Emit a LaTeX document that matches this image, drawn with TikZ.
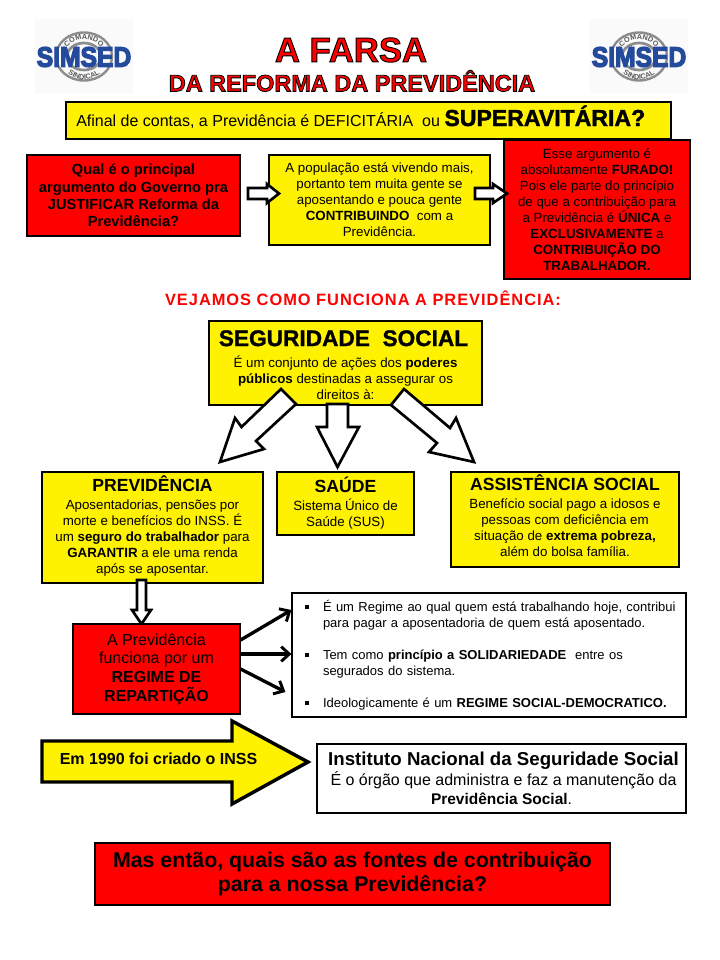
\documentclass[tikz,border=0pt]{standalone}
\usepackage{fontspec}
\setmainfont{Liberation Sans}
\usetikzlibrary{calc,decorations.text,arrows.meta}
\newcommand{\outl}[3]{\special{pdf:code 2 Tr #2 w #1 RG}#3\special{pdf:code 0 Tr 1 w}}
\newcommand{\fs}[2]{\fontsize{#1}{#2}\selectfont}
\newcommand{\bul}{\hspace*{4.5pt}\rule[1.6pt]{3pt}{3pt}\hspace{10.5pt}}
\newcommand{\cont}{\hspace*{18pt}}
\definecolor{logoblue}{RGB}{35,75,155}
\definecolor{logogray}{RGB}{140,140,140}
\definecolor{logotext}{RGB}{90,90,90}
\tikzset{
  boxy/.style={draw=black,line width=.9pt,inner sep=0pt,align=center,font=\fs{10}{12}},
  sz/.style 2 args={minimum width=#1*0.75pt,minimum height=#2*0.75pt},
  blockarrow/.style={draw=black,fill=white,line width=2pt,miter limit=6},
  thinarrow/.style={draw=black,line width=2.5pt,-{Straight Barb[length=6pt,width=11pt,line width=2.2pt]}},
  logo/.pic={
    \path[fill=black!2] (-49,-37.5) rectangle (49,37.5);
    \draw[logogray,line width=1.8pt] (0,0) ellipse (28 and 24);
    \draw[logogray,line width=2pt] (0,0) ellipse (17 and 13.5);
    \path[postaction={decorate,decoration={text along path,text align=center,
      text={|\fs{5.5}{6}\bfseries\color{logotext}|COMANDO}}}]
      (-19.7,-2.95) arc[start angle=-170,end angle=-10,x radius=20,y radius=17];
    \path[postaction={decorate,decoration={text along path,text align=center,
      text={|\fs{5.5}{6}\bfseries\color{logotext}|SINDICAL}}}]
      (-23.2,5.95) arc[start angle=165,end angle=15,x radius=24,y radius=23];
    \node[inner sep=0pt,text=logoblue,font=\fs{21}{21}\bfseries] (simsed) at (0,0.5)
      {\scalebox{.88}[1]{\outl{.14 .29 .61}{1}{SIMSED}}};
  }
}
\begin{document}
\begin{tikzpicture}[x=0.75pt,y=-0.75pt]
\useasboundingbox (0,0) rectangle (720,960);
\fill[white] (0,0) rectangle (720,960);
\pic (la) at (84,56.5) {logo};
\pic (lb) at (639,56.5) {logo};
\node[inner sep=0pt,text=red,font=\fs{26}{26}\bfseries] (t1) at (351,50) {\outl{0 0 0}{.7}{A FARSA}};
\node[inner sep=0pt,text=red,font=\fs{17.6}{18}\bfseries] (t2) at (352,81) {\outl{0 0 0}{.6}{DA REFORMA DA PREVIDÊNCIA}};
\node[boxy,fill=yellow,sz={605}{37}] (q0) at (368.5,120.5) {};
\node[inner sep=0pt,anchor=base west,font=\fs{12}{14}] (q0t) at (76,126)
 {Afinal de contas, a Previdência é DEFICITÁRIA\ \ ou \fs{17.3}{18}\bfseries\outl{0 0 0}{.3}{SUPERAVITÁRIA?}};
\node[boxy,fill=red,sz={213}{81},font=\fs{11}{13}\bfseries] (r1) at (133.5,195.5)
 {Qual é o principal\\argumento do Governo pra\\JUSTIFICAR Reforma da\\Previdência?};
\node[boxy,fill=yellow,sz={221}{90}] (y2) at (379.5,200)
 {A população está vivendo mais,\\portanto tem muita gente se\\aposentando e pouca gente\\\textbf{CONTRIBUINDO}\ \ com a\\Previdência.};
\node[boxy,fill=red,sz={186}{139}] (r3) at (597,209.5)
 {Esse argumento é\\absolutamente \textbf{FURADO!}\\Pois ele parte do princípio\\de que a contribuição para\\a Previdência é \textbf{ÚNICA} e\\\textbf{EXCLUSIVAMENTE} a\\\textbf{CONTRIBUIÇÃO DO}\\\textbf{TRABALHADOR.}};
\draw[blockarrow] (248,188)--(267,188)--(267,184)--(279,193.5)--(267,203)--(267,199)--(248,199)--cycle;
\draw[blockarrow] (475,188)--(493,188)--(493,184)--(507,193.5)--(493,203)--(493,199)--(475,199)--cycle;
\node[inner sep=0pt,text=red,font=\fs{12.3}{14}\bfseries] (h1) at (363,298) {\addfontfeature{LetterSpace=6}VEJAMOS COMO FUNCIONA A PREVIDÊNCIA:};
\node[boxy,fill=yellow,sz={273}{84}] (seg) at (345.5,363)
 {\rule{0pt}{14.5pt}\fs{17}{20}\bfseries\outl{0 0 0}{.2}{SEGURIDADE\ \ SOCIAL}\hspace*{3pt}\\[3.8pt]É um conjunto de ações dos \textbf{poderes}\\\textbf{públicos} destinadas a assegurar os\\direitos à:};
\draw[blockarrow] (281,389)--(296,404)--(256,441)--(264,449)--(220,462)--(235,418)--(241.5,427)--cycle;
\draw[blockarrow] (327,404)--(348,404)--(348,427)--(359,427)--(337.5,467)--(317,427)--(327,427)--cycle;
\draw[blockarrow] (404,389)--(391,405)--(437,443)--(429,452)--(474,462)--(456,418)--(450,428)--cycle;
\node[boxy,fill=yellow,sz={221}{111}] (prev) at (152.5,527.5)
 {\fs{13.2}{15}\bfseries PREVIDÊNCIA\\[1.5pt]Aposentadorias, pensões por\\morte e benefícios do INSS. É\\um \textbf{seguro do trabalhador} para\\\textbf{GARANTIR} a ele uma renda\\após se aposentar.\rule[-4pt]{0pt}{0pt}};
\node[boxy,fill=yellow,sz={137}{63}] (sau) at (345.5,503.5)
 {\fs{13.2}{15}\bfseries SAÚDE\\[1.5pt]Sistema Único de\\Saúde (SUS)};
\node[boxy,fill=yellow,sz={228}{95}] (ass) at (565,519.5)
 {\fs{13.2}{15}\bfseries ASSISTÊNCIA SOCIAL\\[1.5pt]Benefício social pago a idosos e\\pessoas com deficiência em\\situação de \textbf{extrema pobreza,}\\além do bolsa família.\rule[-5.5pt]{0pt}{0pt}};
\draw[blockarrow] (137,580)--(146,580)--(146,610)--(151,610)--(141.5,624)--(132,610)--(137,610)--cycle;
\node[boxy,fill=red,sz={167}{90},font=\fs{12}{14}] (rep) at (156.5,669)
 {A Previdência\\funciona por um\\\textbf{REGIME DE}\\\textbf{REPARTIÇÃO}};
\node[boxy,fill=white,sz={394}{124},text width=380*0.75pt,align=left,font=\fs{9.75}{12}] (lst) at (489,655)
 {\bul É um Regime ao qual quem está trabalhando hoje, contribui\\
  \cont para pagar a aposentadoria de quem está aposentado.\\[12pt]
  \bul Tem como \textbf{princípio a SOLIDARIEDADE}\ \ entre os\\
  \cont segurados do sistema.\\[12pt]
  \bul Ideologicamente é um \textbf{REGIME SOCIAL-DEMOCRATICO.}};
\coordinate (a1s) at ($(rep.east)+(0,-29)$);
\coordinate (a1e) at ($(lst.west)+(0,-45)$);
\coordinate (a3e) at ($(lst.west)+(-6,37)$);
\draw[thinarrow] (a1s) -- (a1e);
\draw[thinarrow] ($(rep.east)+(0,-15)$) -- (lst.west |- 0,654);
\draw[thinarrow] (rep.east) -- (a3e);
\draw[line width=2.6pt,fill=yellow,miter limit=6] (42,741)--(232,741)--(232,721)--(308,762)--(232,804)--(232,782)--(42,782)--cycle;
\node[inner sep=0pt,font=\fs{12}{14}\bfseries] (inss) at (158.5,759) {Em 1990 foi criado o INSS};
\node[boxy,fill=white,sz={369}{69},font=\fs{12}{14.5}] (ins) at (501.5,778.5)
 {\hspace*{3pt}\fs{14}{15}\bfseries Instituto Nacional da Seguridade Social\\\hspace*{3pt}É o órgão que administra e faz a manutenção da\\\fs{11.6}{14.5}\textbf{Previdência Social}.};
\node[boxy,fill=red,sz={515}{62},font=\fs{16}{18.7}\bfseries] (bot) at (352.5,874)
 {Mas então, quais são as fontes de contribuição\\para a nossa Previdência?};
\end{tikzpicture}
\end{document}
